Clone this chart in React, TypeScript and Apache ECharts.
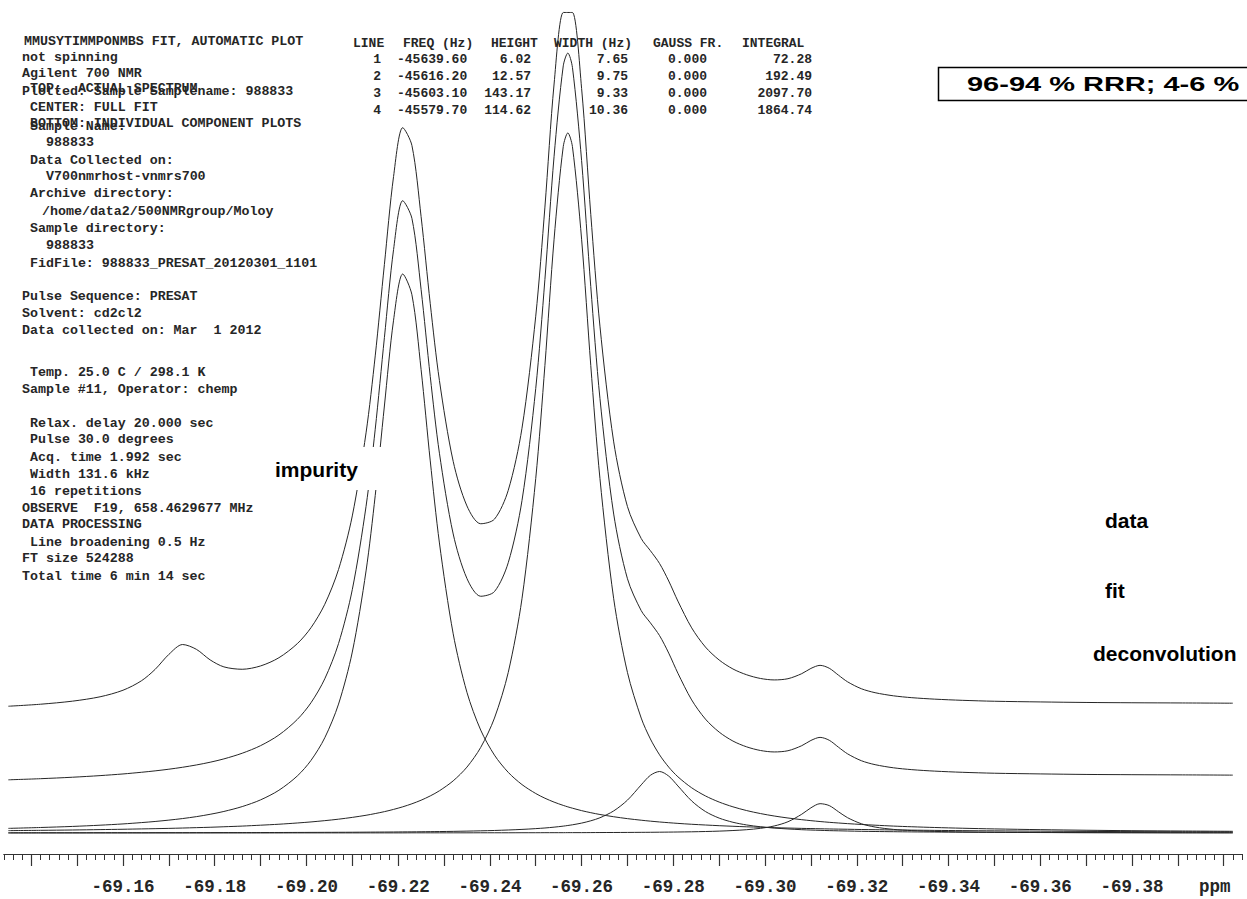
import React, { useEffect, useRef } from 'react';
import * as echarts from 'echarts';

// chemical shift (ppm) of the sampled points
const PPM = [
  -69.135, -69.142, -69.149, -69.155, -69.160, -69.164, -69.167, -69.170, -69.173, -69.176,
  -69.179, -69.182, -69.186, -69.190, -69.194, -69.198, -69.201, -69.204, -69.207, -69.210,
  -69.213, -69.215, -69.217, -69.219, -69.221, -69.223, -69.225, -69.227, -69.229, -69.232,
  -69.235, -69.238, -69.241, -69.244, -69.247, -69.250, -69.252, -69.254, -69.256, -69.257,
  -69.258, -69.260, -69.262, -69.264, -69.267, -69.270, -69.273, -69.275, -69.277, -69.279,
  -69.281, -69.284, -69.287, -69.290, -69.293, -69.296, -69.299, -69.302, -69.305, -69.308,
  -69.310, -69.312, -69.314, -69.316, -69.318, -69.321, -69.324, -69.328, -69.332, -69.337,
  -69.343, -69.350, -69.360, -69.370, -69.380, -69.391, -69.402,
];

// measured spectrum (top trace), clipped at the top of the plot
const DATA = [
  1.82, 2.23, 2.86, 3.75, 5.09, 7.01, 9.35, 12.42, 14.44, 13.46,
  11.30, 9.87, 9.38, 10.06, 11.74, 14.61, 17.89, 22.67, 29.79, 40.74,
  57.73, 73.47, 92.17, 110.16, 120.14, 116.50, 101.97, 84.14, 68.43, 51.90,
  42.78, 39.14, 40.08, 45.97, 58.67, 81.59, 103.89, 129.07, 143.70, 143.70,
  143.70, 128.17, 102.41, 79.55, 55.88, 42.65, 36.12, 33.63, 31.01, 27.43,
  23.32, 17.85, 13.93, 11.27, 9.44, 8.25, 7.50, 7.20, 7.45, 8.48,
  9.55, 10.18, 9.59, 8.18, 6.81, 5.40, 4.59, 3.95, 3.57, 3.27,
  3.03, 2.84, 2.70, 2.59, 2.53, 2.49, 2.44,
];

// full fit (middle trace)
const FIT = [
  1.47, 1.70, 2.00, 2.33, 2.67, 3.01, 3.30, 3.64, 4.04, 4.51,
  5.07, 5.75, 6.91, 8.46, 10.64, 13.81, 17.24, 22.13, 29.34, 40.36,
  57.40, 73.17, 91.90, 109.91, 119.91, 116.29, 101.77, 83.96, 68.26, 51.75,
  42.64, 39.01, 39.97, 45.87, 58.57, 81.50, 103.81, 128.99, 147.48, 150.10,
  147.18, 128.10, 102.34, 79.48, 55.82, 42.59, 36.07, 33.58, 30.96, 27.38,
  23.27, 17.81, 13.89, 11.23, 9.40, 8.21, 7.47, 7.17, 7.42, 8.45,
  9.52, 10.15, 9.56, 8.15, 6.78, 5.38, 4.57, 3.93, 3.55, 3.25,
  3.01, 2.82, 2.68, 2.57, 2.52, 2.48, 2.43,
];

// individual components (bottom traces)
const COMP_LINE1 = [
  0.01, 0.01, 0.01, 0.01, 0.01, 0.01, 0.01, 0.01, 0.01, 0.01,
  0.01, 0.01, 0.01, 0.01, 0.01, 0.02, 0.02, 0.02, 0.02, 0.02,
  0.02, 0.02, 0.02, 0.02, 0.02, 0.03, 0.03, 0.03, 0.03, 0.03,
  0.03, 0.04, 0.04, 0.04, 0.05, 0.05, 0.06, 0.06, 0.06, 0.07,
  0.07, 0.07, 0.08, 0.09, 0.10, 0.11, 0.13, 0.14, 0.16, 0.18,
  0.20, 0.24, 0.30, 0.38, 0.50, 0.67, 0.95, 1.43, 2.30, 3.83,
  5.14, 5.99, 5.60, 4.35, 3.12, 1.89, 1.21, 0.73, 0.49, 0.32,
  0.21, 0.14, 0.09, 0.06, 0.04, 0.03, 0.03,
];
const COMP_LINE2 = [
  0.03, 0.04, 0.04, 0.05, 0.05, 0.05, 0.06, 0.06, 0.06, 0.07,
  0.07, 0.08, 0.08, 0.09, 0.10, 0.11, 0.12, 0.13, 0.14, 0.15,
  0.17, 0.18, 0.19, 0.20, 0.22, 0.23, 0.25, 0.27, 0.29, 0.33,
  0.38, 0.44, 0.51, 0.61, 0.73, 0.89, 1.02, 1.19, 1.40, 1.53,
  1.67, 2.02, 2.49, 3.11, 4.51, 6.72, 9.84, 11.79, 12.57, 11.63,
  9.62, 6.55, 4.39, 3.04, 2.19, 1.64, 1.27, 1.01, 0.82, 0.67,
  0.60, 0.54, 0.48, 0.44, 0.40, 0.34, 0.30, 0.26, 0.22, 0.19,
  0.16, 0.13, 0.10, 0.08, 0.07, 0.05, 0.04,
];
const COMP_LINE3 = [
  0.48, 0.54, 0.61, 0.69, 0.76, 0.83, 0.88, 0.94, 1.01, 1.09,
  1.17, 1.27, 1.41, 1.59, 1.79, 2.04, 2.26, 2.52, 2.82, 3.19,
  3.62, 3.97, 4.36, 4.82, 5.35, 5.97, 6.70, 7.58, 8.63, 10.66,
  13.47, 17.50, 23.50, 32.82, 47.90, 72.50, 95.62, 121.43, 140.38, 143.17,
  140.38, 121.43, 95.62, 72.50, 47.90, 32.82, 23.50, 19.23, 15.98, 13.47,
  11.49, 9.24, 7.58, 6.32, 5.35, 4.58, 3.97, 3.47, 3.06, 2.72,
  2.52, 2.34, 2.18, 2.04, 1.91, 1.74, 1.59, 1.41, 1.27, 1.12,
  0.97, 0.83, 0.68, 0.56, 0.47, 0.40, 0.34,
];
const COMP_LINE4 = [
  0.94, 1.12, 1.34, 1.59, 1.85, 2.12, 2.35, 2.63, 2.95, 3.34,
  3.82, 4.40, 5.40, 6.77, 8.74, 11.65, 14.85, 19.47, 26.36, 37.00,
  53.59, 69.01, 87.32, 104.87, 114.32, 110.07, 94.79, 76.09, 59.31, 40.73,
  28.76, 21.04, 15.92, 12.40, 9.90, 8.07, 7.11, 6.31, 5.64, 5.34,
  5.07, 4.57, 4.15, 3.78, 3.32, 2.93, 2.61, 2.42, 2.25, 2.10,
  1.96, 1.78, 1.63, 1.49, 1.37, 1.26, 1.17, 1.08, 1.01, 0.94,
  0.90, 0.86, 0.82, 0.79, 0.76, 0.71, 0.67, 0.62, 0.58, 0.53,
  0.48, 0.43, 0.37, 0.32, 0.28, 0.25, 0.22,
];

// x-axis labels
const TICK_VALUES = [-69.16, -69.18, -69.2, -69.22, -69.24, -69.26, -69.28, -69.3, -69.32, -69.34, -69.36, -69.38];
const UNIT_LABEL = 'ppm';
const UNIT_VALUE = -69.4;

// fit results table
const TABLE_HEADERS = ['LINE', 'FREQ (Hz)', 'HEIGHT', 'WIDTH (Hz)', 'GAUSS FR.', 'INTEGRAL'];
const LINE_NO = ['1', '2', '3', '4'];
const FREQ_HZ = ['-45639.60', '-45616.20', '-45603.10', '-45579.70'];
const HEIGHTS = ['6.02', '12.57', '143.17', '114.62'];
const WIDTHS_HZ = ['7.65', '9.75', '9.33', '10.36'];
const GAUSS_FR = ['0.000', '0.000', '0.000', '0.000'];
const INTEGRALS = ['72.28', '192.49', '2097.70', '1864.74'];

// acquisition parameter text block: [text, column indent, y]
const PARAM_LINES: [string, number, number][] = [
  ['MMUSYTIMMPONMBS FIT, AUTOMATIC PLOT', 0.25, 41],
  ['not spinning', 0, 57],
  ['Agilent 700 NMR', 0, 73],
  ['Plotted: Sample Samplename: 988833', 0, 91],
  ['TOP:  ACTUAL SPECTRUM', 1, 88],
  ['CENTER: FULL FIT', 1, 107],
  ['BOTTOM: INDIVIDUAL COMPONENT PLOTS', 1, 123],
  ['Sample Name:', 1, 126],
  ['988833', 3, 142],
  ['Data Collected on:', 1, 160],
  ['V700nmrhost-vnmrs700', 3, 176],
  ['Archive directory:', 1, 193],
  ['/home/data2/500NMRgroup/Moloy', 2.5, 211],
  ['Sample directory:', 1, 228],
  ['988833', 3, 245],
  ['FidFile: 988833_PRESAT_20120301_1101', 1, 263],
  ['Pulse Sequence: PRESAT', 0, 296],
  ['Solvent: cd2cl2', 0, 313],
  ['Data collected on: Mar  1 2012', 0, 330],
  ['Temp. 25.0 C / 298.1 K', 1, 372],
  ['Sample #11, Operator: chemp', 0, 389],
  ['Relax. delay 20.000 sec', 1, 423],
  ['Pulse 30.0 degrees', 1, 439],
  ['Acq. time 1.992 sec', 1, 457],
  ['Width 131.6 kHz', 1, 474],
  ['16 repetitions', 1, 491],
  ['OBSERVE  F19, 658.4629677 MHz', 0, 508],
  ['DATA PROCESSING', 0, 524],
  ['Line broadening 0.5 Hz', 1, 542],
  ['FT size 524288', 0, 558],
  ['Total time 6 min 14 sec', 0, 576],
];

const TRACE_LABELS = ['data', 'fit', 'deconvolution'];
const IMPURITY_LABEL = 'impurity';
const RATIO_LABEL = '96-94 % RRR; 4-6 %';

const DATA_OFFSET = 24.1;
const FIT_OFFSET = 9.4;

const MONO = 'Liberation Mono, DejaVu Sans Mono, monospace';
const SANS = 'Liberation Sans, Arial, sans-serif';
const INK = '#262626';

function text(t: string, x: number, y: number, font: string, align = 'left', z = 5, fill = INK) {
  return {
    type: 'text',
    x,
    y,
    z,
    silent: true,
    style: {
      text: t,
      font,
      fill,
      textAlign: align,
      align,
      textVerticalAlign: 'middle',
      verticalAlign: 'middle',
    },
  };
}

export default function App() {
  const ref = useRef<HTMLDivElement>(null);

  useEffect(() => {
    if (!ref.current) return;
    const chart = echarts.init(ref.current, undefined, { renderer: 'svg' });

    const line = (name: string, vals: number[], offset: number, width = 1) => ({
      type: 'line',
      name,
      xAxisIndex: 0,
      yAxisIndex: 0,
      data: PPM.map((p, i) => [p, +(vals[i] + offset).toFixed(3)]),
      showSymbol: false,
      symbol: 'none',
      smooth: 0.3,
      silent: true,
      clip: true,
      lineStyle: { color: INK, width },
      z: 2,
    });

    const monoFont = `bold 13.3px ${MONO}`;
    const tableFont = `bold 13px ${MONO}`;
    const labelFont = `bold 21px ${SANS}`;

    const graphics: any[] = [];
    PARAM_LINES.forEach(([t, col, y]) => graphics.push(text(t, 22 + col * 8, y, monoFont)));

    // table
    const headerX = [353, 403, 491, 554, 653, 742];
    TABLE_HEADERS.forEach((h, i) => graphics.push(text(h, headerX[i], 43, tableFont)));
    const rowY = [59, 76, 93, 110];
    LINE_NO.forEach((n, i) => {
      graphics.push(text(n, 381, rowY[i], tableFont, 'right'));
      graphics.push(text(FREQ_HZ[i], 397, rowY[i], tableFont));
      graphics.push(text(HEIGHTS[i], 531, rowY[i], tableFont, 'right'));
      graphics.push(text(WIDTHS_HZ[i], 628, rowY[i], tableFont, 'right'));
      graphics.push(text(GAUSS_FR[i], 668, rowY[i], tableFont));
      graphics.push(text(INTEGRALS[i], 812, rowY[i], tableFont, 'right'));
    });

    // impurity label with white background
    graphics.push({
      type: 'rect',
      z: 10,
      silent: true,
      shape: { x: 266, y: 447, width: 128, height: 43 },
      style: { fill: '#ffffff' },
    });
    graphics.push(text(IMPURITY_LABEL, 275, 469, labelFont, 'left', 11, '#000'));

    // trace labels
    graphics.push(text(TRACE_LABELS[0], 1105, 520, labelFont, 'left', 11, '#000'));
    graphics.push(text(TRACE_LABELS[1], 1105, 590, labelFont, 'left', 11, '#000'));
    graphics.push(text(TRACE_LABELS[2], 1093, 653, labelFont, 'left', 11, '#000'));

    // ratio box
    graphics.push({
      type: 'rect',
      z: 10,
      silent: true,
      shape: { x: 938.5, y: 67.5, width: 330, height: 33 },
      style: { fill: '#ffffff', stroke: '#000', lineWidth: 1.5 },
    });
    graphics.push({
      ...text(RATIO_LABEL, 967, 84, `bold 20px ${SANS}`, 'left', 11, '#000'),
      scaleX: 1.45,
      originX: 0,
      originY: 0,
    });

    const option: any = {
      animation: false,
      backgroundColor: '#ffffff',
      grid: [
        { left: 3.76, right: 5.02, top: 11.5, bottom: 45 },
        { left: 31.28, right: 23.36, top: 11.5, bottom: 45 },
      ],
      xAxis: [
        {
          type: 'value',
          gridIndex: 0,
          inverse: true,
          min: -69.404,
          max: -69.134,
          interval: 0.002,
          axisLine: { show: true, onZero: false, lineStyle: { color: '#333', width: 1.2 } },
          axisTick: { show: true, length: 6, lineStyle: { color: '#333', width: 1 } },
          axisLabel: { show: false },
          splitLine: { show: false },
        },
        {
          type: 'value',
          gridIndex: 1,
          inverse: true,
          min: -69.4,
          max: -69.14,
          interval: 0.01,
          axisLine: { show: false, onZero: false },
          axisTick: { show: true, length: 12, lineStyle: { color: '#333', width: 1.2 } },
          splitLine: { show: false },
          axisLabel: {
            show: true,
            margin: 24,
            color: INK,
            fontFamily: MONO,
            fontWeight: 'bold',
            fontSize: 17.5,
            formatter: (v: number) => {
              const hit = TICK_VALUES.find((t) => Math.abs(t - v) < 1e-6);
              if (hit !== undefined) return hit.toFixed(2);
              if (Math.abs(v - UNIT_VALUE) < 1e-6) return `{u|${UNIT_LABEL}}`;
              return '';
            },
            rich: {
              u: {
                fontFamily: MONO,
                fontSize: 17.5,
                fontWeight: 'bold',
                color: INK,
                padding: [0, 18, 0, 0],
              },
            },
          },
        },
      ],
      yAxis: [
        { type: 'value', gridIndex: 0, show: false, min: -4.3, max: 168 },
        { type: 'value', gridIndex: 1, show: false, min: 0, max: 1 },
      ],
      series: [
        line('data', DATA, DATA_OFFSET),
        line('fit', FIT, FIT_OFFSET),
        line('line 1', COMP_LINE1, 0),
        line('line 2', COMP_LINE2, 0),
        line('line 3', COMP_LINE3, 0),
        line('line 4', COMP_LINE4, 0),
      ],
      graphic: graphics,
    };

    chart.setOption(option);
    return () => chart.dispose();
  }, []);

  return (
    <div
      ref={ref}
      style={{ position: 'fixed', left: 0, top: 0, width: 1247, height: 899, background: '#fff' }}
    />
  );
}
